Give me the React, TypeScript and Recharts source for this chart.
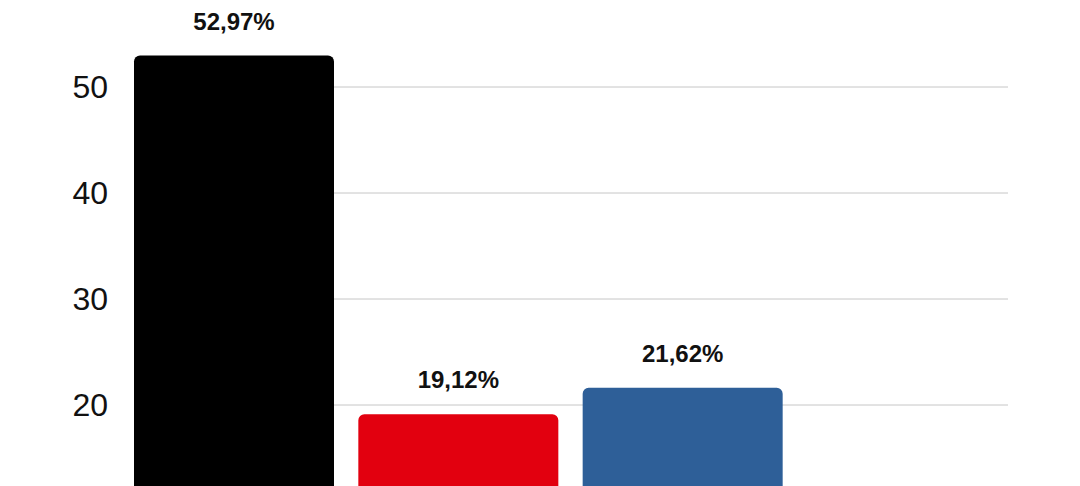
import React from 'react';
import { BarChart, Bar, XAxis, YAxis, CartesianGrid, LabelList, Cell } from 'recharts';

// Values
const categories = ['A', 'B', 'C'];
const shares = [52.97, 19.12, 21.62];
const barColors = ['#000000', '#e2000f', '#2e5f98'];
const yTicks = [0, 10, 20, 30, 40, 50];

const data = categories.map((name, i) => ({ name, value: shares[i] }));

const fmt = (v: number) => `${v.toFixed(2).replace('.', ',')}%`;

export default function App() {
  return (
    <div style={{ position: 'absolute', left: 0, top: -20, width: 1080, height: 677, background: '#fff' }}>
      <BarChart
        width={1080}
        height={677}
        data={data}
        margin={{ top: 1, right: 72, left: 0, bottom: 10 }}
        barCategoryGap={12}
      >
        <CartesianGrid vertical={false} stroke="#c6c6c6" x={134} width={874} />
        <XAxis dataKey="name" tick={false} axisLine={false} tickLine={false} padding={{ left: 0, right: 213 }} />
        <YAxis
          width={122}
          domain={[0, 60]}
          ticks={yTicks}
          axisLine={false}
          tickLine={false}
          tickSize={0}
          tickMargin={14}
          tick={{ fill: '#111', fontSize: 32, fontFamily: 'Liberation Sans, Arial, sans-serif' }}
        />
        <Bar dataKey="value" radius={[6, 6, 0, 0]} isAnimationActive={false}>
          {data.map((d, i) => (
            <Cell key={d.name} fill={barColors[i]} />
          ))}
          <LabelList
            dataKey="value"
            position="top"
            offset={26}
            formatter={(v: any) => fmt(Number(v))}
            style={{ fill: '#111', fontSize: 24, fontWeight: 700, fontFamily: 'Liberation Sans, Arial, sans-serif' }}
          />
        </Bar>
      </BarChart>
    </div>
  );
}
